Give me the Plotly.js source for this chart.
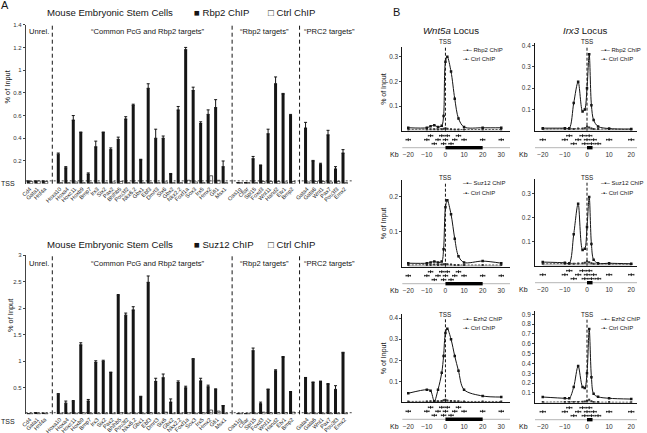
<!DOCTYPE html>
<html>
<head>
<meta charset="utf-8">
<script src="https://cdn.plot.ly/plotly-3.0.1.min.js"></script>
<style>
  html, body { margin: 0; padding: 0; background: #fff; }
  #chart { width: 647px; height: 433px; }
</style>
</head>
<body>
<div id="chart"></div>
<script>
// ---------- Panel A : ChIP at promoters (% of input) ----------
const unrelGenes = ['Cd4', 'Gata1', 'Hnf4a'];
const commonGenes = ['Hoxa10', 'Hoxa4', 'Hoxc11', 'Hoxb9', 'Bmp7', 'Irx3', 'Six2', 'Pax2', 'Bhlhb5',
  'Pou3f2', 'Nkx6.2', 'Gbx1', 'Ebf3', 'Dmrt3', 'Six6', 'Gbx2', 'Nkx2.2', 'Foxf1a', 'Sox3', 'Irx5',
  'Hmx2', 'Gfi1', 'Msx1'];
const rbp2Genes = ['Oas1g', 'Cflar', 'Spi15', 'Foxd3', 'Wnt11', 'Hand2', 'Etv1', 'Bmp2'];
const prc2Genes = ['Gata4', 'Gata6', 'Wnt1', 'Pax7', 'Pou3f3', 'Emx2'];
const groupNames = ['Unrel.', '\u201cCommon PcG and Rbp2 targets\u201d', '\u201cRbp2 targets\u201d', '\u201cPRC2 targets\u201d'];

const rbp2Chip = [0.02, 0.02, 0.02,
  0.26, 0.14, 0.56, 0.45, 0.085, 0.325, 0.45, 0.30, 0.39, 0.57, 0.69, 0.21, 0.84, 0.40, 0.40, 0.085, 0.65, 1.18, 0.82, 0.53, 0.61, 0.67, 0.15,
  0.01, 0.01, 0.22, 0.16, 0.44, 0.88, 0.79, 0.60,
  0.49, 0.20, 0.17, 0.43, 0.13, 0.27];
const rbp2Err = [0.005, 0.005, 0.005,
  0.01, 0.01, 0.04, 0.005, 0.01, 0.05, 0.005, 0.015, 0.02, 0.02, 0.01, 0.005, 0.04, 0.08, 0.02, 0.005, 0.03, 0.02, 0.03, 0.015, 0.04, 0.07, 0.05,
  0, 0, 0.02, 0.005, 0.04, 0.06, 0.005, 0.01,
  0.05, 0.005, 0.01, 0.04, 0.02, 0.03];
const rbp2Ctrl = [0.02, 0.025, 0.02,
  0.01, 0.01, 0.015, 0.01, 0.01, 0.01, 0.01, 0.015, 0.02, 0.01, 0.01, 0.01, 0.01, 0.01, 0.015, 0.01, 0.01, 0.03, 0.015, 0.01, 0.07, 0.03, 0.01,
  0.01, 0.01, 0.01, 0.02, 0.02, 0.02, 0.015, 0.02,
  0.015, 0.02, 0.02, 0.015, 0.02, 0.01];

const suz12Chip = [0.01, 0.03, 0.02,
  0.38, 0.21, 0.24, 1.31, 0.25, 0.98, 1.00, 0.79, 2.24, 1.87, 1.97, 0.33, 2.49, 0.62, 0.69, 0.23, 0.60, 0.50, 1.04, 0.63, 0.52, 0.47, 0.16,
  0.01, 0.01, 1.20, 0.20, 0.47, 0.82, 1.08, 0.42,
  0.69, 0.60, 0.62, 0.57, 0.47, 1.16];
const suz12Err = [0, 0, 0,
  0.01, 0.04, 0.02, 0.04, 0.03, 0.03, 0.02, 0.005, 0.02, 0.04, 0.06, 0.01, 0.12, 0.06, 0.07, 0.06, 0.03, 0.03, 0.01, 0.05, 0.03, 0.01, 0.005,
  0, 0, 0.05, 0.03, 0.005, 0.02, 0.01, 0.01,
  0.005, 0.01, 0.005, 0.01, 0.07, 0.01];
const suz12Ctrl = [0.02, 0.02, 0.02,
  0.02, 0.02, 0.02, 0.03, 0.02, 0.02, 0.02, 0.02, 0.03, 0.02, 0.02, 0.02, 0.03, 0.02, 0.04, 0.02, 0.02, 0.03, 0.02, 0.03, 0.08, 0.06, 0.02,
  0.02, 0.02, 0.02, 0.04, 0.03, 0.03, 0.03, 0.04,
  0.02, 0.02, 0.02, 0.02, 0.02, 0.02];
const tssLevel = [0.025, 0.03];   // dotted background line, top / bottom chart

// ---------- Panel B : ChIP scans across two loci ----------
const wnt5aKb = [-20, -10, -8, -6, -4, -2, -1, 0, 1, 3, 5, 7, 10, 20, 30];
const wnt5aRbp2 = [0.012, 0.012, 0.018, 0.022, 0.015, 0.02, 0.06, 0.28, 0.30, 0.24, 0.13, 0.05, 0.015, 0.012, 0.012];
const wnt5aSuz12 = [0.01, 0.01, 0.012, 0.015, 0.012, 0.015, 0.05, 0.17, 0.19, 0.15, 0.08, 0.03, 0.012, 0.016, 0.01];
const wnt5aEzh2 = [0.043, 0.06, 0.055, 0.005, 0.06, 0.14, 0.22, 0.33, 0.35, 0.30, 0.22, 0.15, 0.06, 0.03, 0.025];
const wnt5aCtrlRbp2 = [0.005, 0.005, 0.006, 0.006, 0.005, 0.006, 0.008, 0.01, 0.008, 0.006, 0.005, 0.005, 0.005, 0.005, 0.005];
const wnt5aCtrlSuz12 = [0.005, 0.005, 0.005, 0.006, 0.005, 0.006, 0.007, 0.008, 0.007, 0.006, 0.005, 0.005, 0.005, 0.005, 0.005];
const wnt5aCtrlEzh2 = [0.004, 0.004, 0.005, 0.005, 0.005, 0.006, 0.01, 0.012, 0.008, 0.006, 0.005, 0.005, 0.004, 0.004, 0.004];

const irx3Kb = [-20, -10, -8, -6, -4, -2, -1, 0, 1, 2, 3, 5, 10, 20];
const irx3Rbp2 = [0.012, 0.012, 0.012, 0.13, 0.23, 0.09, 0.10, 0.20, 0.36, 0.12, 0.05, 0.02, 0.01, 0.008];
const irx3Suz12 = [0.015, 0.012, 0.01, 0.13, 0.257, 0.065, 0.07, 0.16, 0.285, 0.09, 0.025, 0.01, 0.01, 0.008];
const irx3Ezh2 = [0.058, 0.045, 0.045, 0.16, 0.373, 0.16, 0.15, 0.30, 0.75, 0.26, 0.09, 0.06, 0.045, 0.037];
const irx3CtrlRbp2 = [0.008, 0.008, 0.008, 0.008, 0.01, 0.01, 0.012, 0.02, 0.015, 0.01, 0.008, 0.008, 0.008, 0.006];
const irx3CtrlSuz12 = [0.008, 0.008, 0.008, 0.008, 0.009, 0.01, 0.012, 0.018, 0.014, 0.01, 0.008, 0.008, 0.008, 0.006];
const irx3CtrlEzh2 = [0.006, 0.006, 0.006, 0.006, 0.008, 0.01, 0.012, 0.02, 0.03, 0.015, 0.008, 0.006, 0.006, 0.005];

const wnt5aPrimerKb = [-20, -10, -8, -6, -4, -2, -1, 0, 1, 3, 5, 7, 10, 20, 30];
const wnt5aPrimerRow = [2, 2, 3, 1, 2, 3, 1, 2, 3, 1, 2, 3, 2, 2, 2];
const irx3PrimerKb = [-20, -10, -8, -6, -4, -2, -1, 0, 1, 2, 3, 5, 10, 20];
const irx3PrimerRow = [2, 2, 3, 1, 2, 3, 1, 2, 3, 1, 2, 1, 2, 2];
const wnt5aGene = [0, 20];
const irx3Gene = [0, 2.5];

// ---------- helpers ----------
const FONT = 'Liberation Sans, Arial, Helvetica, sans-serif';
const W = 647, H = 433;
const px = v => v / W;
const py = v => 1 - v / H;
const INK = '#151515';

const layout = {
  width: W, height: H,
  margin: { l: 0, r: 0, t: 0, b: 0 },
  paper_bgcolor: '#fff', plot_bgcolor: 'rgba(0,0,0,0)',
  showlegend: false,
  colorway: [INK],
  barmode: 'group', bargap: 0.2, bargroupgap: 0,
  font: { family: FONT, size: 7, color: INK },
  shapes: [], annotations: []
};
const traces = [];

function note(text, x, y, size, extra) {
  layout.annotations.push(Object.assign({
    text: text, x: px(x), y: py(y), xref: 'paper', yref: 'paper', showarrow: false,
    font: { family: FONT, size: size, color: INK }, xanchor: 'center', yanchor: 'middle'
  }, extra || {}));
}

// category positions, one empty slot between groups
const groups = [unrelGenes, commonGenes, rbp2Genes, prc2Genes];
const genes = [], xPos = [], groupStart = [];
groups.forEach((g, gi) => {
  groupStart.push(genes.length + gi);
  g.forEach(name => { xPos.push(genes.length + gi); genes.push(name); });
});

function barChart(chip, err, ctrl, n, yTopPx, yBotPx, yMax, tickv, tss, chipName, titleY, groupY) {
  const xa = 'x' + (n === 1 ? '' : n), ya = 'y' + (n === 1 ? '' : n);
  traces.push({
    type: 'bar', x: xPos, y: chip, xaxis: xa, yaxis: ya, name: chipName,
    marker: { color: INK, line: { width: 0 } },
    error_y: { type: 'data', symmetric: false, array: err, arrayminus: err.map(() => 0), color: INK, thickness: 1, width: 1.5 }
  });
  traces.push({
    type: 'bar', x: xPos, y: ctrl, xaxis: xa, yaxis: ya, name: 'Ctrl ChIP',
    marker: { color: '#fff', line: { color: INK, width: 0.7 } }
  });
  layout['xaxis' + (n === 1 ? '' : n)] = {
    domain: [px(25.7), px(352)], range: [-0.55, 43], anchor: ya,
    tickvals: xPos, ticktext: genes, tickangle: -45, tickfont: { size: 5.6, color: '#222' },
    ticks: '', showline: false, showgrid: false, zeroline: false
  };
  layout['yaxis' + (n === 1 ? '' : n)] = {
    domain: [py(yBotPx), py(yTopPx)], range: [0, yMax], anchor: xa,
    tickvals: tickv, ticks: 'outside', ticklen: 2, tickcolor: '#444', tickfont: { size: 6, color: '#333' },
    showline: true, linecolor: '#444', linewidth: 1, showgrid: false, zeroline: false
  };
  // group separators
  for (let gi = 1; gi < groups.length; gi++) {
    layout.shapes.push({ type: 'line', xref: xa, yref: ya + ' domain', x0: groupStart[gi] - 1, x1: groupStart[gi] - 1, y0: 0, y1: 1,
      line: { color: INK, width: 1, dash: '4px,3px' } });
  }
  layout.shapes.push({ type: 'line', xref: xa + ' domain', yref: ya, x0: 0, x1: 1.005, y0: tss, y1: tss,
    line: { color: INK, width: 0.8, dash: '2px,2px' } });
  // titles
  note('Mouse Embryonic Stem Cells', 110.3, titleY, 9.6);
  note('\u25a0 ' + chipName, 192, titleY, 9.6, { xanchor: 'left' });
  note('\u25a1 Ctrl ChIP', 266, titleY, 9.6, { xanchor: 'left' });
  const gx = [39, 147.5, 264.5, 329.5];
  groupNames.forEach((t, i) => note(t, gx[i], groupY, 7.6));
  note('% of Input', n === 1 ? 7.5 : 10, n === 1 ? 87 : 316, 7.4, { textangle: -90 });
  note('TSS', 8, n === 1 ? 183.5 : 421.5, 7);
}

barChart(rbp2Chip, rbp2Err, rbp2Ctrl, 1, 24.7, 183.7, 1.4, [0.2, 0.4, 0.6, 0.8, 1, 1.2, 1.4], tssLevel[0], 'Rbp2 ChIP', 12.3, 32);
barChart(suz12Chip, suz12Err, suz12Ctrl, 2, 255.3, 414.3, 3, [0.5, 1, 1.5, 2, 2.5, 3], tssLevel[1], 'Suz12 ChIP', 244, 263.3);
note('A', 4.5, 5.5, 11);
note('B', 396.5, 12, 11);

// ---------- Panel B ----------
const cols = [
  { locus: 'Wnt5a', kb: wnt5aKb, xpx: [402.3, 510], range: [-23.2, 34.7], ticks: [-20, -10, 0, 10, 20, 30],
    primerKb: wnt5aPrimerKb, primerRow: wnt5aPrimerRow, gene: wnt5aGene, kbX: 394.5, titleX: 451, legX: 461 },
  { locus: 'Irx3', kb: irx3Kb, xpx: [535, 637], range: [-23.5, 22.6], ticks: [-20, -10, 0, 10, 20],
    primerKb: irx3PrimerKb, primerRow: irx3PrimerRow, gene: irx3Gene, kbX: 523.5, titleX: 584.5, legX: 599 }
];
const rows = [
  { ab: 'Rbp2 ChIP', base: [130.7, 130.7], top: [47, 43.3], ymax: [0.34, 0.411], tss: 42, leg: [50, 59.3],
    tv: [[0.1, 0.2, 0.3], [0.1, 0.2, 0.3, 0.4]], data: [[wnt5aRbp2, wnt5aCtrlRbp2], [irx3Rbp2, irx3CtrlRbp2]] },
  { ab: 'Suz12 ChIP', base: [266.7, 265.7], top: [180, 179.3], ymax: [0.248, 0.358], tss: 177.7, leg: [183.3, 192.7],
    tv: [[0.1, 0.2], [0.1, 0.2, 0.3]], data: [[wnt5aSuz12, wnt5aCtrlSuz12], [irx3Suz12, irx3CtrlSuz12]] },
  { ab: 'Ezh2 ChIP', base: [402.3, 402.7], top: [314, 311], ymax: [0.42, 0.934], tss: 314.3, leg: [319, 328.3],
    tv: [[0.1, 0.2, 0.3, 0.4], [0.1, 0.2, 0.3, 0.4, 0.5, 0.6, 0.7, 0.8, 0.9]], data: [[wnt5aEzh2, wnt5aCtrlEzh2], [irx3Ezh2, irx3CtrlEzh2]] }
];

cols.forEach(c => note('<i>' + c.locus + '</i> Locus', c.titleX, 30.7, 9.6));

rows.forEach((r, ri) => {
  cols.forEach((c, ci) => {
    const k = ri * 2 + ci, n = 3 + k, m = 9 + k;
    const base = r.base[ci];
    const xa = 'x' + n, ya = 'y' + n, xl = 'x' + m, yl = 'y' + m;
    // control first, then ChIP on top
    traces.push({
      type: 'scatter', mode: 'lines+markers', x: c.kb, y: r.data[ci][1], xaxis: xa, yaxis: ya,
      line: { color: '#333', width: 0.8, dash: '2px,1.5px' }, marker: { symbol: 'square', size: 2, color: '#333' },
      fill: 'tozeroy', fillcolor: 'rgba(150,150,150,0.55)'
    });
    traces.push({
      type: 'scatter', mode: 'lines+markers', x: c.kb, y: r.data[ci][0], xaxis: xa, yaxis: ya,
      line: { color: INK, width: 1, shape: 'spline', smoothing: 0.9 }, marker: { symbol: 'square', size: 2.5, color: INK }
    });
    // primers and gene track
    traces.push({
      type: 'scatter', mode: 'markers', x: c.primerKb, y: c.primerRow, xaxis: xl, yaxis: yl,
      marker: { symbol: 'line-ns-open', size: 2, color: INK, line: { width: 1, color: INK } },
      error_x: { type: 'constant', value: 1.2, width: 0.8, thickness: 0.9, color: INK }
    });
    traces.push({
      type: 'scatter', mode: 'lines', x: c.gene, y: c.gene.map(() => 0), xaxis: xl, yaxis: yl,
      line: { color: '#000', width: 3.5 }
    });

    layout['xaxis' + n] = { domain: [px(c.xpx[0]), px(c.xpx[1])], range: c.range, anchor: ya,
      showticklabels: false, ticks: '', showline: true, linecolor: INK, linewidth: 1, showgrid: false, zeroline: false };
    layout['yaxis' + n] = { domain: [py(base), py(r.top[ci])], range: [0, r.ymax[ci]], anchor: xa,
      tickvals: r.tv[ci], ticks: 'outside', ticklen: 2, tickcolor: '#444', tickfont: { size: 6.4, color: '#333' },
      showline: true, linecolor: INK, linewidth: 1, showgrid: false, zeroline: false };
    layout['xaxis' + m] = { domain: [px(c.xpx[0]), px(c.xpx[1])], range: c.range, anchor: yl,
      tickvals: c.ticks, ticks: '', tickfont: { size: 6.6, color: '#333' }, showline: false, showgrid: false, zeroline: false };
    layout['yaxis' + m] = { domain: [py(base + 19), py(base + 3)], range: [-0.5, 3.5], anchor: xl, visible: false };

    layout.shapes.push({ type: 'line', xref: xl + ' domain', yref: yl, x0: 0, x1: 1, y0: 0, y1: 0,
      line: { color: '#b5b5b5', width: 1 }, layer: 'below' });
    layout.shapes.push({ type: 'line', xref: xa, yref: 'paper', x0: 0, x1: 0, y0: py(base), y1: py(r.tss + 4),
      line: { color: INK, width: 1, dash: '3px,2px' } });
    layout.annotations.push({ text: 'TSS', xref: xa, yref: 'paper', x: 0, y: py(r.tss), showarrow: false,
      font: { family: FONT, size: 6.3, color: INK }, xanchor: 'center', yanchor: 'middle' });

    note('Kb', c.kbX, base + 24, 7);
    note('\u2013\u25aa\u2013 ' + r.ab, c.legX, r.leg[0], 6, { xanchor: 'left' });
    note('-\u25aa- Ctrl ChIP', c.legX, r.leg[1], 6, { xanchor: 'left' });
    if (ci === 0) note('% of Input', 384, (base + r.top[0]) / 2, 7, { textangle: -90 });
  });
});

Plotly.newPlot('chart', traces, layout, { staticPlot: true, displayModeBar: false });
</script>
</body>
</html>
